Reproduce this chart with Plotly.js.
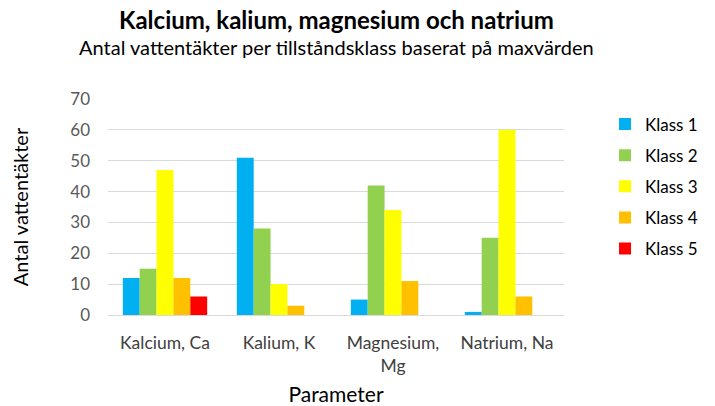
<!DOCTYPE html>
<html>
<head>
<meta charset="utf-8">
<script src="https://cdn.plot.ly/plotly-3.0.1.min.js"></script>
<style>html,body{margin:0;padding:0;background:#fff;}#chart{width:715px;height:406px;}</style>
</head>
<body>
<div id="chart"></div>
<script>
const categories = ["Kalcium, Ca", "Kalium, K", "Magnesium,<br>Mg", "Natrium, Na"];
const seriesNames = ["Klass 1", "Klass 2", "Klass 3", "Klass 4", "Klass 5"];
const klass1 = [12, 51, 5, 1];
const klass2 = [15, 28, 42, 25];
const klass3 = [47, 10, 34, 60];
const klass4 = [12, 3, 11, 6];
const klass5 = [6, 0, 0, 0];
const colors = ["#00B0F0", "#92D050", "#FFFF00", "#FFC000", "#FF0000"];
const yTicks = [0, 10, 20, 30, 40, 50, 60, 70];
const titleText = "Kalcium, kalium, magnesium och natrium";
const subtitleText = "Antal vattentäkter per tillståndsklass baserat på maxvärden";

const allSeries = [klass1, klass2, klass3, klass4, klass5];
const FONT = "Lato, 'Open Sans', sans-serif";

const data = allSeries.map((vals, i) => ({
  type: "bar",
  name: seriesNames[i],
  x: categories,
  y: vals,
  marker: {color: colors[i], line: {width: 0}},
  legendgroup: "g" + i,
  hoverinfo: "x+y+name"
}));

const layout = {
  width: 715, height: 406,
  paper_bgcolor: "#fff", plot_bgcolor: "#fff",
  margin: {l: 108, r: 147, t: 99, b: 91},
  barmode: "group",
  bargap: 0.26,
  bargroupgap: 0,
  font: {family: FONT, color: "#595959", size: 14},
  annotations: [
    {text: "<b>" + titleText + "</b>", xref: "paper", yref: "paper", x: 0.5, y: 1.366,
     xanchor: "center", yanchor: "middle", showarrow: false,
     font: {family: FONT, size: 24, color: "#000"}},
    {text: subtitleText, xref: "paper", yref: "paper", x: 0.5, y: 1.241,
     xanchor: "center", yanchor: "middle", showarrow: false,
     font: {family: FONT, size: 20, color: "#000"}}
  ],
  xaxis: {
    type: "category",
    showgrid: false,
    showline: true, linecolor: "#d9d9d9", linewidth: 1,
    ticks: "",
    ticklabelstandoff: 12,
    tickfont: {family: FONT, size: 17.5, color: "#404040"},
    title: {text: "Parameter", font: {family: FONT, size: 21, color: "#000"}, standoff: 15}
  },
  yaxis: {
    range: [0, 70],
    tickvals: yTicks,
    showgrid: true, gridcolor: "#d9d9d9", gridwidth: 1,
    zeroline: false, showline: false, ticks: "",
    ticklabelstandoff: 17,
    tickfont: {family: FONT, size: 17, color: "#595959"},
    title: {text: "Antal vattentäkter", font: {family: FONT, size: 20, color: "#000"}, standoff: 36}
  },
  showlegend: true,
  legend: {
    x: 1.09, xanchor: "left", xref: "paper",
    y: 0.965, yanchor: "top",
    font: {family: FONT, size: 17, color: "#000"},
    tracegroupgap: 6,
    bgcolor: "rgba(0,0,0,0)"
  }
};

Plotly.newPlot("chart", data, layout, {displayModeBar: false, staticPlot: true});
</script>
</body>
</html>
